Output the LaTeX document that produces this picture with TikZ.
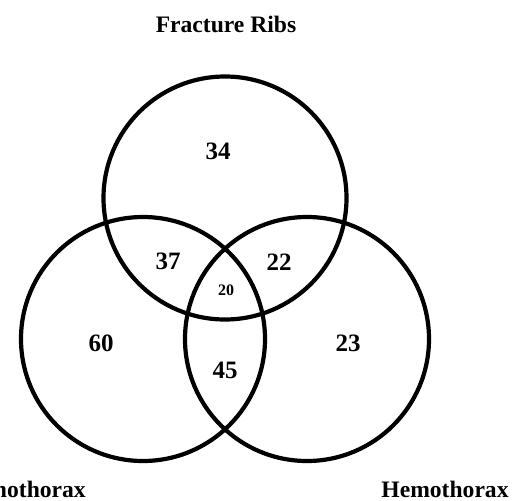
\documentclass[tikz,border=0pt]{standalone}
\usepackage{fontspec}
\setmainfont{Liberation Serif}
\usetikzlibrary{positioning}

\tikzset{
  setcircle/.style={draw, circle, line width=4.2pt, minimum size=#1, inner sep=0pt},
  count/.style={font=\fontsize{25}{30}\selectfont\bfseries, inner sep=0pt},
  smallcount/.style={font=\fontsize{16}{19}\selectfont\bfseries, inner sep=0pt},
  setname/.style={font=\fontsize{23.6}{28}\selectfont\bfseries, inner sep=0pt},
}

\begin{document}
\begin{tikzpicture}[x=1pt, y=-1pt]
        \useasboundingbox (0,0) rectangle (520,501);
        \clip (0,0) rectangle (520,501);
        % Sets
        \node[setcircle=243pt] (ribs) at (225,198) {};
        \node[setcircle=244pt] (pneumo) at (143,339) {};
        \node[setcircle=244pt] (hemo) at (307,339) {};
        % Set names
        \node[setname, anchor=base] (ribsname) at (226,32.5) {Fracture Ribs};
        \node[setname, anchor=base east] (pneumoname) at (86,497) {Pneumothorax};
        \node[setname, anchor=base] (hemoname) at (445,497) {Hemothorax};
        % Counts
        \node[count] (nribs) at (218,151) {34};
        \node[count] (npneumo) at (101,343) {60};
        \node[count] (nhemo) at (348,343) {23};
        \node[count] (nribspneumo) at (168,261) {37};
        \node[count] (nribshemo) at (279,262) {22};
        \node[count] (npneumohemo) at (225,370) {45};
        \node[smallcount] (nall) at (226,290) {20};
      \end{tikzpicture}
\end{document}
